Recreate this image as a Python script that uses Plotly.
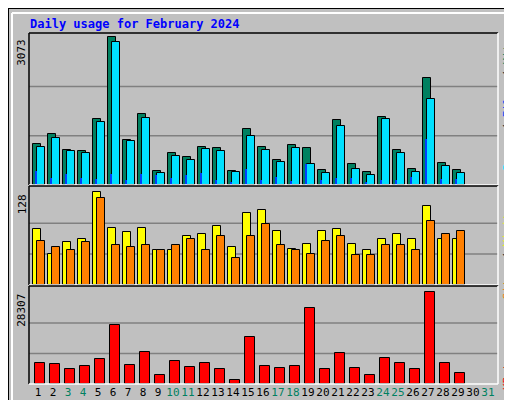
import plotly.graph_objects as go

days = list(range(1, 30))
hits = [863,1051,738,717,1363,3073,946,1468,300,675,592,800,780,300,1155,800,530,842,780,321,1343,446,279,1405,738,342,2218,467,321]
files = [800,988,717,675,1301,2969,926,1384,259,613,530,759,717,279,1030,738,488,780,446,259,1238,342,217,1363,675,279,1780,404,259]
pages = [300,154,238,154,133,238,113,238,217,154,217,259,113,71,342,113,175,92,446,113,154,154,71,113,113,175,967,133,133]
visits = [77,43,59,63,128,79,73,79,49,48,68,70,82,52,100,103,75,50,57,75,77,57,48,64,71,64,109,64,63]
sites = [61,53,48,59,120,55,53,55,48,55,64,49,68,37,68,84,55,48,43,61,68,42,41,55,55,48,89,70,75]
kbytes = [6612,6302,4752,5682,7852,18080,5992,10021,2893,7232,5372,6612,4752,1343,14360,5682,5062,5682,23348,4752,9711,5062,2893,8162,6612,4752,28307,6612,3513]
label_days = list(range(1, 32))
weekend = [3,4,10,11,17,18,24,25,31]
max_hits, max_visits, max_kb = 3073, 128, 28307

W, H = 512, 400
def py(px): return 1 - px / H

fig = go.Figure()
BL = dict(color="black", width=1)
fig.add_bar(x=days, y=hits, offset=-0.233, width=0.533, marker=dict(color="#008060", line=BL), xaxis="x", yaxis="y")
fig.add_bar(x=days, y=files, offset=0.033, width=0.533, marker=dict(color="#00e0ff", line=BL), xaxis="x", yaxis="y")
fig.add_bar(x=days, y=pages, offset=-0.1, width=0.14, marker=dict(color="#0040ff", line=dict(width=0)), xaxis="x", yaxis="y")
fig.add_bar(x=days, y=visits, offset=-0.233, width=0.533, marker=dict(color="#ffff00", line=BL), xaxis="x2", yaxis="y2")
fig.add_bar(x=days, y=sites, offset=0.033, width=0.533, marker=dict(color="#ff8000", line=BL), xaxis="x2", yaxis="y2")
fig.add_bar(x=days, y=kbytes, offset=-0.12, width=0.667, marker=dict(color="#ff0000", line=BL), xaxis="x3", yaxis="y3")

xr = [0.503, 31.77]
xd = [21 / W, 490 / W]
ticktext = [f"<span style='color:{'#008060' if d in weekend else 'black'}'>{d}</span>" for d in label_days]
common_x = dict(range=xr, domain=xd, showgrid=False, zeroline=False, fixedrange=True, automargin=False)
ycommon = dict(showticklabels=False, showgrid=False, zeroline=False, automargin=False)
fig.update_layout(
    width=W, height=H, margin=dict(l=0, r=0, t=0, b=0, autoexpand=False),
    paper_bgcolor="#c0c0c0", plot_bgcolor="#c0c0c0",
    barmode="overlay", showlegend=False, bargap=0,
    font=dict(family="DejaVu Sans Mono", size=11, color="black"),
    xaxis=dict(**common_x, showticklabels=False, anchor="y"),
    xaxis2=dict(**common_x, showticklabels=False, anchor="y2"),
    xaxis3=dict(**common_x, anchor="y3", tickvals=[d + 0.1 for d in label_days], ticktext=ticktext, ticks="",
                tickangle=0, tickfont=dict(size=11)),
    yaxis=dict(domain=[py(177), py(25)], range=[0, max_hits * 151.7 / 147.4], **ycommon),
    yaxis2=dict(domain=[py(277), py(179)], range=[0, max_visits * 97.7 / 92.4], **ycommon),
    yaxis3=dict(domain=[py(376), py(279)], range=[0, max_kb * 96.7 / 91.4], **ycommon),
)

shapes = []
for ya, mx in [("y", max_hits), ("y2", max_visits), ("y3", max_kb)]:
    for f in (1 / 3, 2 / 3):
        shapes.append(dict(type="line", xref="x domain" if ya == "y" else f"x{ya[1:]} domain", yref=ya,
                           x0=0, x1=1, y0=mx * f, y1=mx * f, line=dict(color="#808080", width=1.5), layer="below"))
for top, bot in [(25, 177), (178, 277), (278, 376)]:
    shapes.append(dict(type="line", xref="paper", yref="paper", x0=xd[0], x1=xd[1], y0=py(top), y1=py(top), line=dict(color="black", width=1.5)))
    shapes.append(dict(type="line", xref="paper", yref="paper", x0=xd[0], x1=xd[0], y0=py(bot), y1=py(top), line=dict(color="black", width=1.5)))
    shapes.append(dict(type="line", xref="paper", yref="paper", x0=xd[1], x1=xd[1], y0=py(bot), y1=py(top), line=dict(color="white", width=1.5)))
    shapes.append(dict(type="line", xref="paper", yref="paper", x0=xd[0], x1=xd[1], y0=py(bot), y1=py(bot), line=dict(color="white", width=1.5)))
shapes += [
    dict(type="rect", xref="paper", yref="paper", x0=0, x1=1, y0=0, y1=1, line=dict(color="black", width=2)),
    dict(type="line", xref="paper", yref="paper", x0=4 / W, x1=506 / W, y0=py(5), y1=py(5), line=dict(color="white", width=2)),
    dict(type="line", xref="paper", yref="paper", x0=4 / W, x1=4 / W, y0=py(395), y1=py(5), line=dict(color="white", width=2)),
    dict(type="rect", xref="paper", yref="paper", x0=506 / W, x1=510 / W, y0=py(398), y1=py(5), fillcolor="#808080", line=dict(width=0)),
    dict(type="rect", xref="paper", yref="paper", x0=4 / W, x1=510 / W, y0=py(398), y1=py(394), fillcolor="#808080", line=dict(width=0)),
]
fig.update_layout(shapes=shapes)

ann = [
    dict(text="<b>Daily usage for February 2024</b>", x=20 / W, y=py(16), xref="paper", yref="paper", xanchor="left", yanchor="middle",
         showarrow=False, font=dict(family="DejaVu Sans Mono", size=12, color="#0000ff")),
    dict(text=str(max_hits), x=14 / W, y=max_hits, xref="paper", yref="y", xanchor="center", yanchor="top", textangle=-90, showarrow=False, font=dict(size=11)),
    dict(text=str(max_visits), x=14 / W, y=max_visits, xref="paper", yref="y2", xanchor="center", yanchor="top", textangle=-90, showarrow=False, font=dict(size=11)),
    dict(text=str(max_kb), x=14 / W, y=max_kb, xref="paper", yref="y3", xanchor="center", yanchor="top", textangle=-90, showarrow=False, font=dict(size=11)),
    dict(text="<span style='color:#00e0ff'>Pages</span> / <span style='color:#0040ff'>Files</span> / <span style='color:#008060'>Hits</span>",
         x=499 / W, y=py(28), xref="paper", yref="paper", xanchor="center", yanchor="top", textangle=-90, showarrow=False, font=dict(size=11, color="black")),
    dict(text="<span style='color:#ff8000'>Sites</span> / <span style='color:#ffff00'>Visits</span>",
         x=499 / W, y=py(197), xref="paper", yref="paper", xanchor="center", yanchor="top", textangle=-90, showarrow=False, font=dict(size=11, color="black")),
    dict(text="<span style='color:#ff0000'>KBytes</span>",
         x=499 / W, y=py(340), xref="paper", yref="paper", xanchor="center", yanchor="top", textangle=-90, showarrow=False, font=dict(size=11)),
]
fig.update_layout(annotations=ann)
fig.write_html("out.html")
